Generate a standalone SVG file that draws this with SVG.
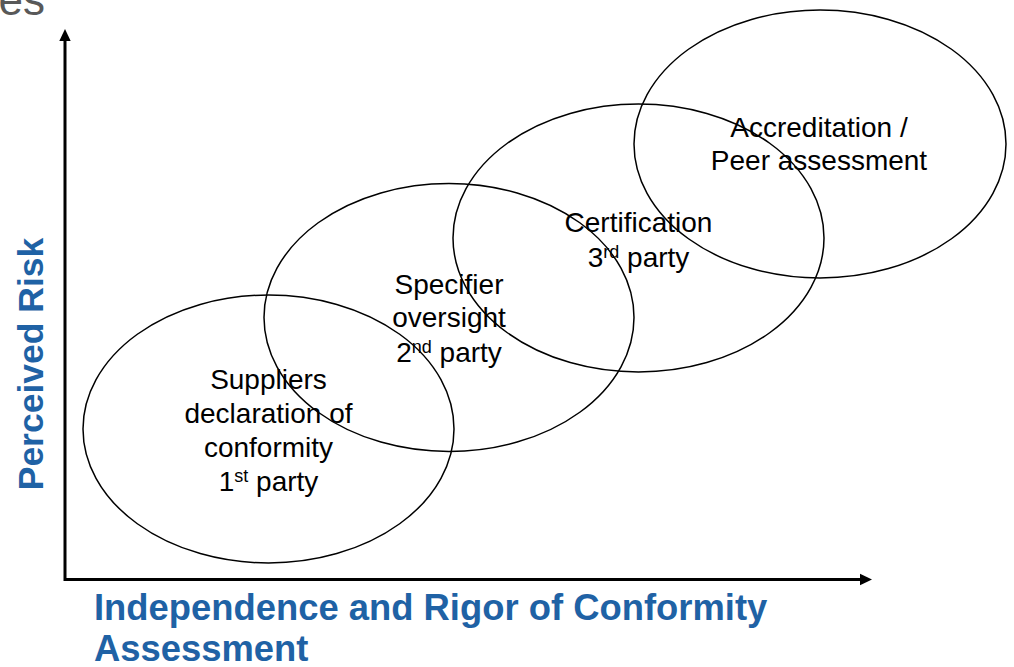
<svg xmlns="http://www.w3.org/2000/svg" width="1014" height="667" viewBox="0 0 1014 667">
<style>
.bg{fill:#ffffff}
.oval{fill:none;stroke:#000000;stroke-width:1.5}
.lbl{font-family:"Liberation Sans",Arial,sans-serif;font-size:28px;fill:#000000;text-anchor:middle}
.sup{font-size:18px}
.axis{fill:none;stroke:#000000;stroke-width:3;stroke-linejoin:miter;stroke-linecap:square}
.head{fill:#000000}
.ttl{font-family:"Liberation Sans",Arial,sans-serif;font-weight:bold;fill:#1f62a5}
.top{font-family:"Liberation Sans",Arial,sans-serif;font-size:44px;fill:#595959;text-anchor:end}
</style>
<rect class="bg" x="0" y="0" width="1014" height="667"/>
<text class="top" x="45" y="14.5">es</text>
<g id="connectors">
  <polyline class="axis" points="65,41 65,579.5 860,579.5"/>
  <polygon class="head" points="65,29 59.3,41 70.7,41"/>
  <polygon class="head" points="872,579.5 860,573.8 860,585.2"/>
</g>
<g id="node-first-party">
  <ellipse class="oval" cx="268.5" cy="429" rx="185.5" ry="134"/>
  <text class="lbl" x="268.5" y="389">Suppliers</text>
  <text class="lbl" x="268.5" y="422.5">declaration of</text>
  <text class="lbl" x="268.5" y="456.5">conformity</text>
  <text class="lbl" x="268.5" y="491">1<tspan class="sup" dy="-9">st</tspan><tspan dy="9"> party</tspan></text>
</g>
<g id="node-second-party">
  <ellipse class="oval" cx="449" cy="317.5" rx="185" ry="134"/>
  <text class="lbl" x="449" y="293.5">Specifier</text>
  <text class="lbl" x="449" y="327">oversight</text>
  <text class="lbl" x="449" y="361.5">2<tspan class="sup" dy="-9">nd</tspan><tspan dy="9"> party</tspan></text>
</g>
<g id="node-third-party">
  <ellipse class="oval" cx="638.5" cy="238" rx="185.5" ry="134"/>
  <text class="lbl" x="638.5" y="232">Certification</text>
  <text class="lbl" x="638.5" y="266.5">3<tspan class="sup" dy="-9">rd</tspan><tspan dy="9"> party</tspan></text>
</g>
<g id="node-accreditation">
  <ellipse class="oval" cx="820" cy="144" rx="186" ry="134"/>
  <text class="lbl" x="819" y="137">Accreditation /</text>
  <text class="lbl" x="819" y="170">Peer assessment</text>
</g>
<g id="axis-titles">
  <text class="ttl" font-size="35.5" text-anchor="middle" transform="translate(43,364) rotate(-90)">Perceived Risk</text>
  <text class="ttl" font-size="36.4" x="94" y="620">Independence and Rigor of Conformity</text>
  <text class="ttl" font-size="36.4" x="94" y="661">Assessment</text>
</g>
</svg>
